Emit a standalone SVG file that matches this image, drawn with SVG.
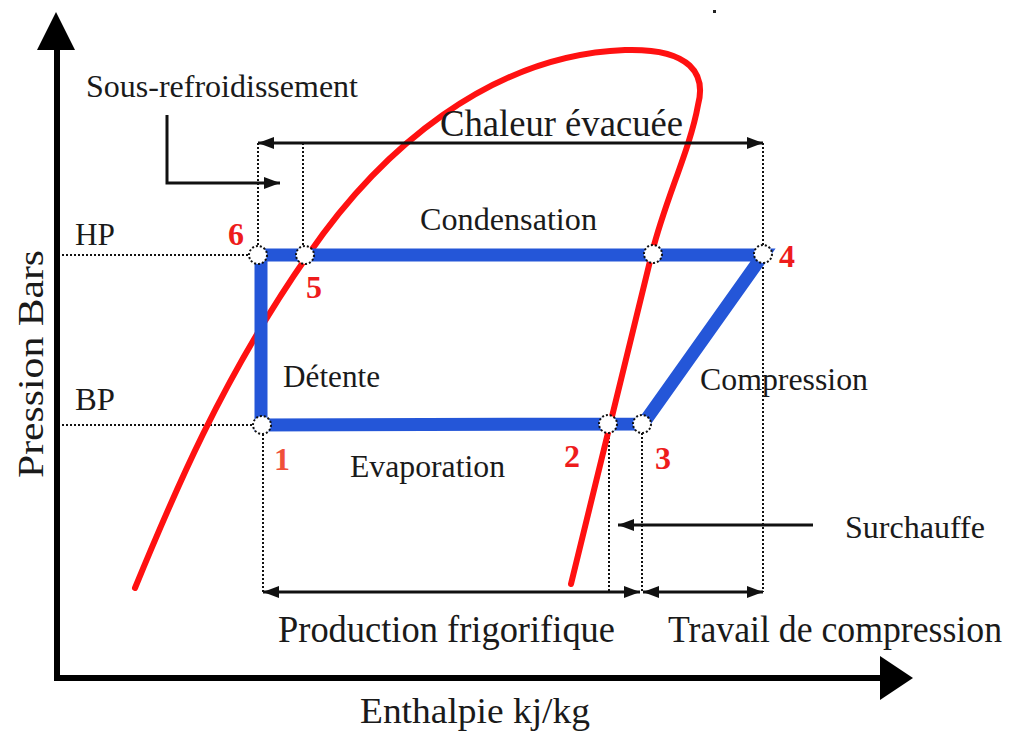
<svg xmlns="http://www.w3.org/2000/svg" width="1016" height="735" viewBox="0 0 1016 735">
<style>
.t{font-family:"Liberation Serif","Times New Roman",serif;fill:#1a1a1a}
.n{font-family:"Liberation Serif","Times New Roman",serif;fill:#ee1c1c;font-weight:bold;font-size:32px}
.dot{stroke:#111;stroke-width:2;stroke-dasharray:2 2;fill:none}
.arr{stroke:#111;stroke-width:3;fill:none}
.pt{fill:#fff;stroke:#111;stroke-width:2;stroke-dasharray:2 2}
</style>
<defs>
<marker id="ah" viewBox="0 0 16 12" refX="16" refY="6" markerWidth="16" markerHeight="12" markerUnits="userSpaceOnUse" orient="auto-start-reverse">
<path d="M0,0 L16,6 L0,12 Z" fill="#111"/>
</marker>
</defs>
<rect width="1016" height="735" fill="#fff"/>
<g id="axes">
<line x1="57" y1="46" x2="57" y2="681" stroke="#000" stroke-width="6"/>
<polygon points="56,12 37,50 75,50" fill="#000"/>
<line x1="54" y1="678" x2="884" y2="678" stroke="#000" stroke-width="6"/>
<polygon points="913,678 880,656 880,700" fill="#000"/>
<rect x="713" y="10" width="3" height="3" fill="#222"/>
</g>
<g id="guides">
<line class="dot" x1="62" y1="255" x2="250" y2="255"/>
<line class="dot" x1="62" y1="425" x2="253" y2="425"/>
<line class="dot" x1="258" y1="143" x2="258" y2="246"/>
<line class="dot" x1="303" y1="143" x2="303" y2="246"/>
<line class="dot" x1="763" y1="143" x2="763" y2="592"/>
<line class="dot" x1="263" y1="434" x2="263" y2="592"/>
<line class="dot" x1="609" y1="433" x2="609" y2="592"/>
<line class="dot" x1="642" y1="433" x2="642" y2="592"/>
</g>
<g id="saturation-curve">
<path d="M135,588 C172,498 222,378 308,255 C380,150 490,55 625,50 C692,48 706,75 698,105 C690,150 665,200 652,253 L571,584" fill="none" stroke="#ff1111" stroke-width="6" stroke-linecap="round" stroke-linejoin="round"/>
</g>
<g id="cycle">
<path d="M261,425 L261,255 L763,255 L643,424 Z" fill="none" stroke="#2456d8" stroke-width="13" stroke-linejoin="miter"/>
</g>
<g id="connectors">
<line class="arr" x1="258" y1="143" x2="763" y2="143" marker-start="url(#ah)" marker-end="url(#ah)"/>
<polyline class="arr" points="167,115 167,183 280,183" marker-end="url(#ah)"/>
<line class="arr" x1="263" y1="592" x2="640" y2="592" marker-start="url(#ah)" marker-end="url(#ah)"/>
<line class="arr" x1="643" y1="592" x2="763" y2="592" marker-start="url(#ah)" marker-end="url(#ah)"/>
<line class="arr" x1="813" y1="525" x2="618" y2="525" marker-end="url(#ah)"/>
</g>
<g id="points">
<circle class="pt" cx="258" cy="255" r="9"/>
<circle class="pt" cx="305" cy="255" r="9"/>
<circle class="pt" cx="653" cy="254" r="9"/>
<circle class="pt" cx="763" cy="254" r="9"/>
<circle class="pt" cx="262" cy="425" r="9"/>
<circle class="pt" cx="608" cy="424" r="9"/>
<circle class="pt" cx="642" cy="424" r="9"/>
</g>
<g id="numbers">
<text class="n" x="228" y="245">6</text>
<text class="n" x="306" y="298">5</text>
<text class="n" x="779" y="267">4</text>
<text class="n" x="274" y="470" style="fill:#f0503a">1</text>
<text class="n" x="564" y="467">2</text>
<text class="n" x="655" y="469">3</text>
</g>
<g id="labels">
<text class="t" x="86" y="97" font-size="32" textLength="272" lengthAdjust="spacingAndGlyphs">Sous-refroidissement</text>
<text class="t" x="440" y="136" font-size="37" textLength="243" lengthAdjust="spacingAndGlyphs">Chaleur évacuée</text>
<text class="t" x="420" y="230" font-size="31" textLength="177" lengthAdjust="spacingAndGlyphs">Condensation</text>
<text class="t" x="75" y="245" font-size="31" textLength="40" lengthAdjust="spacingAndGlyphs">HP</text>
<text class="t" x="75" y="410" font-size="31" textLength="40" lengthAdjust="spacingAndGlyphs">BP</text>
<text class="t" x="283" y="387" font-size="31" textLength="97" lengthAdjust="spacingAndGlyphs">Détente</text>
<text class="t" x="700" y="390" font-size="31" textLength="168" lengthAdjust="spacingAndGlyphs">Compression</text>
<text class="t" x="350" y="477" font-size="31" textLength="155" lengthAdjust="spacingAndGlyphs">Evaporation</text>
<text class="t" x="845" y="538" font-size="31" textLength="140" lengthAdjust="spacingAndGlyphs">Surchauffe</text>
<text class="t" x="278" y="642" font-size="38" textLength="337" lengthAdjust="spacingAndGlyphs">Production frigorifique</text>
<text class="t" x="668" y="642" font-size="37" textLength="334" lengthAdjust="spacingAndGlyphs">Travail de compression</text>
<text class="t" x="360" y="723" font-size="36" textLength="230" lengthAdjust="spacingAndGlyphs">Enthalpie kj/kg</text>
<text class="t" transform="translate(43,364) rotate(-90)" text-anchor="middle" font-size="36" textLength="228" lengthAdjust="spacingAndGlyphs">Pression Bars</text>
</g>
</svg>
